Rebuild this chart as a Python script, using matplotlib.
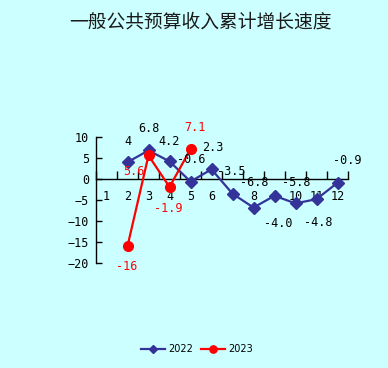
import matplotlib
matplotlib.use("Agg")
import matplotlib.pyplot as plt

months = [1, 2, 3, 4, 5, 6, 7, 8, 9, 10, 11, 12]
month_labels = ["1", "2", "3", "4", "5", "6", "7", "8", "9", "10", "11", "12"]
m2022 = [2, 3, 4, 5, 6, 7, 8, 9, 10, 11, 12]
v2022 = [4, 6.8, 4.2, -0.6, 2.3, -3.5, -6.8, -4.0, -5.8, -4.8, -0.9]
lab2022 = ["4", "6.8", "4.2", "-0.6", "2.3", "-3.5", "-6.8", "-4.0", "-5.8", "-4.8", "-0.9"]
m2023 = [2, 3, 4, 5]
v2023 = [-16, 5.6, -1.9, 7.1]
lab2023 = ["-16", "5.6", "-1.9", "7.1"]
title = "一般公共预算收入累计增长速度"

BG = "#CCFFFF"
BLUE = "#333399"
RED = "#FF0000"

fig = plt.figure(figsize=(3.88, 3.68), dpi=100, facecolor=BG)
ax = fig.add_axes([96/388, 1-263/368, 252/388, 126/368])
ax.set_facecolor(BG)

ax.plot(m2022, v2022, color=BLUE, lw=1.6, marker="D", ms=6, mec=BLUE, mfc=BLUE,
        label="2022", zorder=3)
ax.plot(m2023, v2023, color=RED, lw=1.6, marker="o", ms=7, mec=RED, mfc=RED,
        label="2023", zorder=4)

k = 72/100.0  # px -> points
off2022 = [(0, 21), (0, 22), (0, 20), (1, 22), (1, 22), (-1, 22), (1, 25),
           (4, -28), (1, 21), (2, -23), (10, 22)]
for x, y, t, (dx, dy) in zip(m2022, v2022, lab2022, off2022):
    ax.annotate(t, (x, y), xytext=(dx*k, dy*k), textcoords="offset points",
                ha="center", va="center", fontsize=8.5, family="DejaVu Sans Mono",
                color="black", zorder=5)
off2023 = [(-1, -20), (-15, -16), (-1, -22), (4, 22)]
for x, y, t, (dx, dy) in zip(m2023, v2023, lab2023, off2023):
    ax.annotate(t, (x, y), xytext=(dx*k, dy*k), textcoords="offset points",
                ha="center", va="center", fontsize=8.5, family="DejaVu Sans Mono",
                color=RED, zorder=5)

ax.set_xlim(0.5, 12.5)
ax.set_ylim(-20, 10)
for s in ["top", "right"]:
    ax.spines[s].set_visible(False)
ax.spines["bottom"].set_position(("data", 0))
ax.spines["bottom"].set_color("black")
ax.spines["left"].set_color("black")
ax.spines["bottom"].set_linewidth(1)
ax.spines["left"].set_linewidth(1)

ax.set_xticks([m + 0.5 for m in range(0, 13)])
ax.set_xticklabels([])
ax.set_xticks(months, minor=True)
ax.set_xticklabels(month_labels, minor=True, fontsize=8.5, family="DejaVu Sans Mono")
ax.tick_params(axis="x", which="major", direction="in", length=6, width=1)
ax.tick_params(axis="x", which="minor", length=0, pad=8)
ax.set_yticks([-20, -15, -10, -5, 0, 5, 10])
ax.tick_params(axis="y", direction="in", length=4.5, width=1, pad=5)
for t in ax.get_yticklabels():
    t.set_fontsize(8.5)
    t.set_family("DejaVu Sans Mono")

fig.text(200/388, 1-22/368, title, ha="center", va="center", fontsize=13.5,
         family=["Noto Sans CJK SC", "DejaVu Sans"], color="#1a1a1a")

leg = fig.legend(loc="center", bbox_to_anchor=(197/388, 1-349/368), ncol=2,
                 frameon=False, fontsize=7, handlelength=2.5, handletextpad=0.3,
                 columnspacing=0.8, markerscale=0.75)

fig.savefig("out.png", dpi=100, facecolor=BG)
